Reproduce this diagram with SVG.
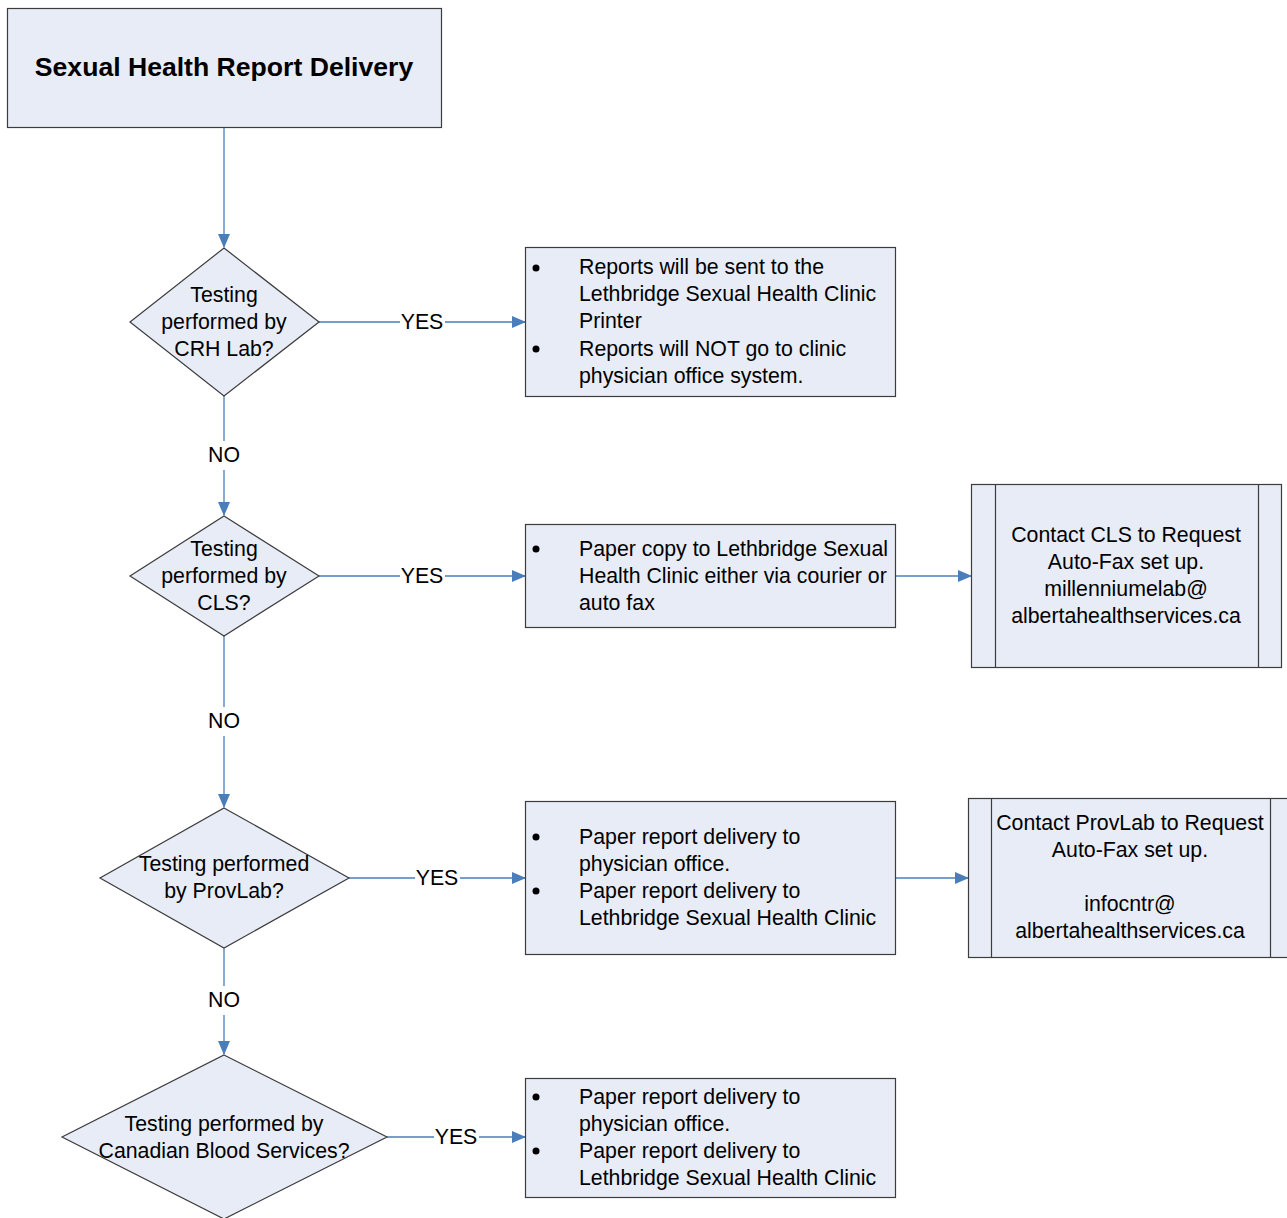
<svg xmlns="http://www.w3.org/2000/svg" width="1287" height="1218" viewBox="0 0 1287 1218">
<defs>
<style>
.box{fill:#e7ecf6;stroke:#3c3c3c;stroke-width:1.2}
.t{font-family:"Liberation Sans",Arial,sans-serif;font-size:21.3px;fill:#000}
.c{text-anchor:middle}
.title{font-family:"Liberation Sans",Arial,sans-serif;font-size:26.6px;font-weight:bold;text-anchor:middle}
.conn{stroke:#4a7ebb;stroke-width:1.3;fill:none}
.lbl{font-family:"Liberation Sans",Arial,sans-serif;font-size:21.3px;text-anchor:middle;fill:#000}
</style>
<marker id="ah" markerWidth="14" markerHeight="14" refX="13" refY="7" orient="auto" markerUnits="userSpaceOnUse"><path d="M0,1 L14,7 L0,13 Z" fill="#4a7ebb"/></marker>
</defs>
<rect width="1287" height="1218" fill="#fff"/>
<g id="connectors">
<line class="conn" x1="224" y1="128" x2="224" y2="247" marker-end="url(#ah)"/>
<path class="conn" d="M319,322 H400 M445,322 H525" marker-end="url(#ah)"/>
<text class="lbl" x="422" y="329">YES</text>
<path class="conn" d="M224,396 V441 M224,470 V515" marker-end="url(#ah)"/>
<text class="lbl" x="224" y="462">NO</text>
<path class="conn" d="M319,576 H400 M445,576 H525" marker-end="url(#ah)"/>
<text class="lbl" x="422" y="583">YES</text>
<line class="conn" x1="896" y1="576" x2="971" y2="576" marker-end="url(#ah)"/>
<path class="conn" d="M224,636 V707 M224,736 V807" marker-end="url(#ah)"/>
<text class="lbl" x="224" y="728">NO</text>
<path class="conn" d="M349,878 H415 M460,878 H525" marker-end="url(#ah)"/>
<text class="lbl" x="437" y="885">YES</text>
<line class="conn" x1="896" y1="878" x2="968" y2="878" marker-end="url(#ah)"/>
<path class="conn" d="M224,948 V986 M224,1015 V1054" marker-end="url(#ah)"/>
<text class="lbl" x="224" y="1007">NO</text>
<path class="conn" d="M387,1137 H434 M479,1137 H525" marker-end="url(#ah)"/>
<text class="lbl" x="456" y="1144">YES</text>
</g>
<g id="title">
<rect class="box" x="7.5" y="8.5" width="434" height="119"/>
<text class="title" x="224" y="76">Sexual Health Report Delivery</text>
</g>
<g id="d1">
<polygon class="box" points="224,248 319,322 224,396 130,322"/>
<text class="t c" x="224" y="302">Testing</text>
<text class="t c" x="224" y="329">performed by</text>
<text class="t c" x="224" y="356">CRH Lab?</text>
</g>
<g id="b1">
<rect class="box" x="525.5" y="247.5" width="370" height="149"/>
<circle cx="536" cy="268" r="3.5"/><circle cx="536" cy="349" r="3.5"/>
<text class="t" x="579" y="274">Reports will be sent to the</text>
<text class="t" x="579" y="301">Lethbridge Sexual Health Clinic</text>
<text class="t" x="579" y="328">Printer</text>
<text class="t" x="579" y="356">Reports will NOT go to clinic</text>
<text class="t" x="579" y="383">physician office system.</text>
</g>
<g id="d2">
<polygon class="box" points="224,516 319,576 224,636 130,576"/>
<text class="t c" x="224" y="556">Testing</text>
<text class="t c" x="224" y="583">performed by</text>
<text class="t c" x="224" y="610">CLS?</text>
</g>
<g id="b2">
<rect class="box" x="525.5" y="524.5" width="370" height="103"/>
<circle cx="536" cy="549" r="3.5"/>
<text class="t" x="579" y="556">Paper copy to Lethbridge Sexual</text>
<text class="t" x="579" y="583">Health Clinic either via courier or</text>
<text class="t" x="579" y="610">auto fax</text>
</g>
<g id="p1">
<rect class="box" x="971.5" y="484.5" width="310" height="183"/>
<line x1="995.5" y1="484.5" x2="995.5" y2="667.5" stroke="#3c3c3c" stroke-width="1.2"/>
<line x1="1258.5" y1="484.5" x2="1258.5" y2="667.5" stroke="#3c3c3c" stroke-width="1.2"/>
<text class="t c" x="1126" y="542">Contact CLS to Request</text>
<text class="t c" x="1126" y="569">Auto-Fax set up.</text>
<text class="t c" x="1126" y="596">millenniumelab@</text>
<text class="t c" x="1126" y="623">albertahealthservices.ca</text>
</g>
<g id="d3">
<polygon class="box" points="224,808 349,878 224,948 100,878"/>
<text class="t c" x="224" y="871">Testing performed</text>
<text class="t c" x="224" y="898">by ProvLab?</text>
</g>
<g id="b3">
<rect class="box" x="525.5" y="801.5" width="370" height="153"/>
<circle cx="536" cy="837" r="3.5"/><circle cx="536" cy="891" r="3.5"/>
<text class="t" x="579" y="844">Paper report delivery to</text>
<text class="t" x="579" y="871">physician office.</text>
<text class="t" x="579" y="898">Paper report delivery to</text>
<text class="t" x="579" y="925">Lethbridge Sexual Health Clinic</text>
</g>
<g id="p2">
<rect class="box" x="968.5" y="798.5" width="325" height="159"/>
<line x1="991.5" y1="798.5" x2="991.5" y2="957.5" stroke="#3c3c3c" stroke-width="1.2"/>
<line x1="1270.5" y1="798.5" x2="1270.5" y2="957.5" stroke="#3c3c3c" stroke-width="1.2"/>
<text class="t c" x="1130" y="830">Contact ProvLab to Request</text>
<text class="t c" x="1130" y="857">Auto-Fax set up.</text>
<text class="t c" x="1130" y="911">infocntr@</text>
<text class="t c" x="1130" y="938">albertahealthservices.ca</text>
</g>
<g id="d4">
<polygon class="box" points="224,1055 387,1137 224,1219 62,1137"/>
<text class="t c" x="224" y="1131">Testing performed by</text>
<text class="t c" x="224" y="1158">Canadian Blood Services?</text>
</g>
<g id="b4">
<rect class="box" x="525.5" y="1078.5" width="370" height="119"/>
<circle cx="536" cy="1097" r="3.5"/><circle cx="536" cy="1151" r="3.5"/>
<text class="t" x="579" y="1104">Paper report delivery to</text>
<text class="t" x="579" y="1131">physician office.</text>
<text class="t" x="579" y="1158">Paper report delivery to</text>
<text class="t" x="579" y="1185">Lethbridge Sexual Health Clinic</text>
</g>
</svg>
